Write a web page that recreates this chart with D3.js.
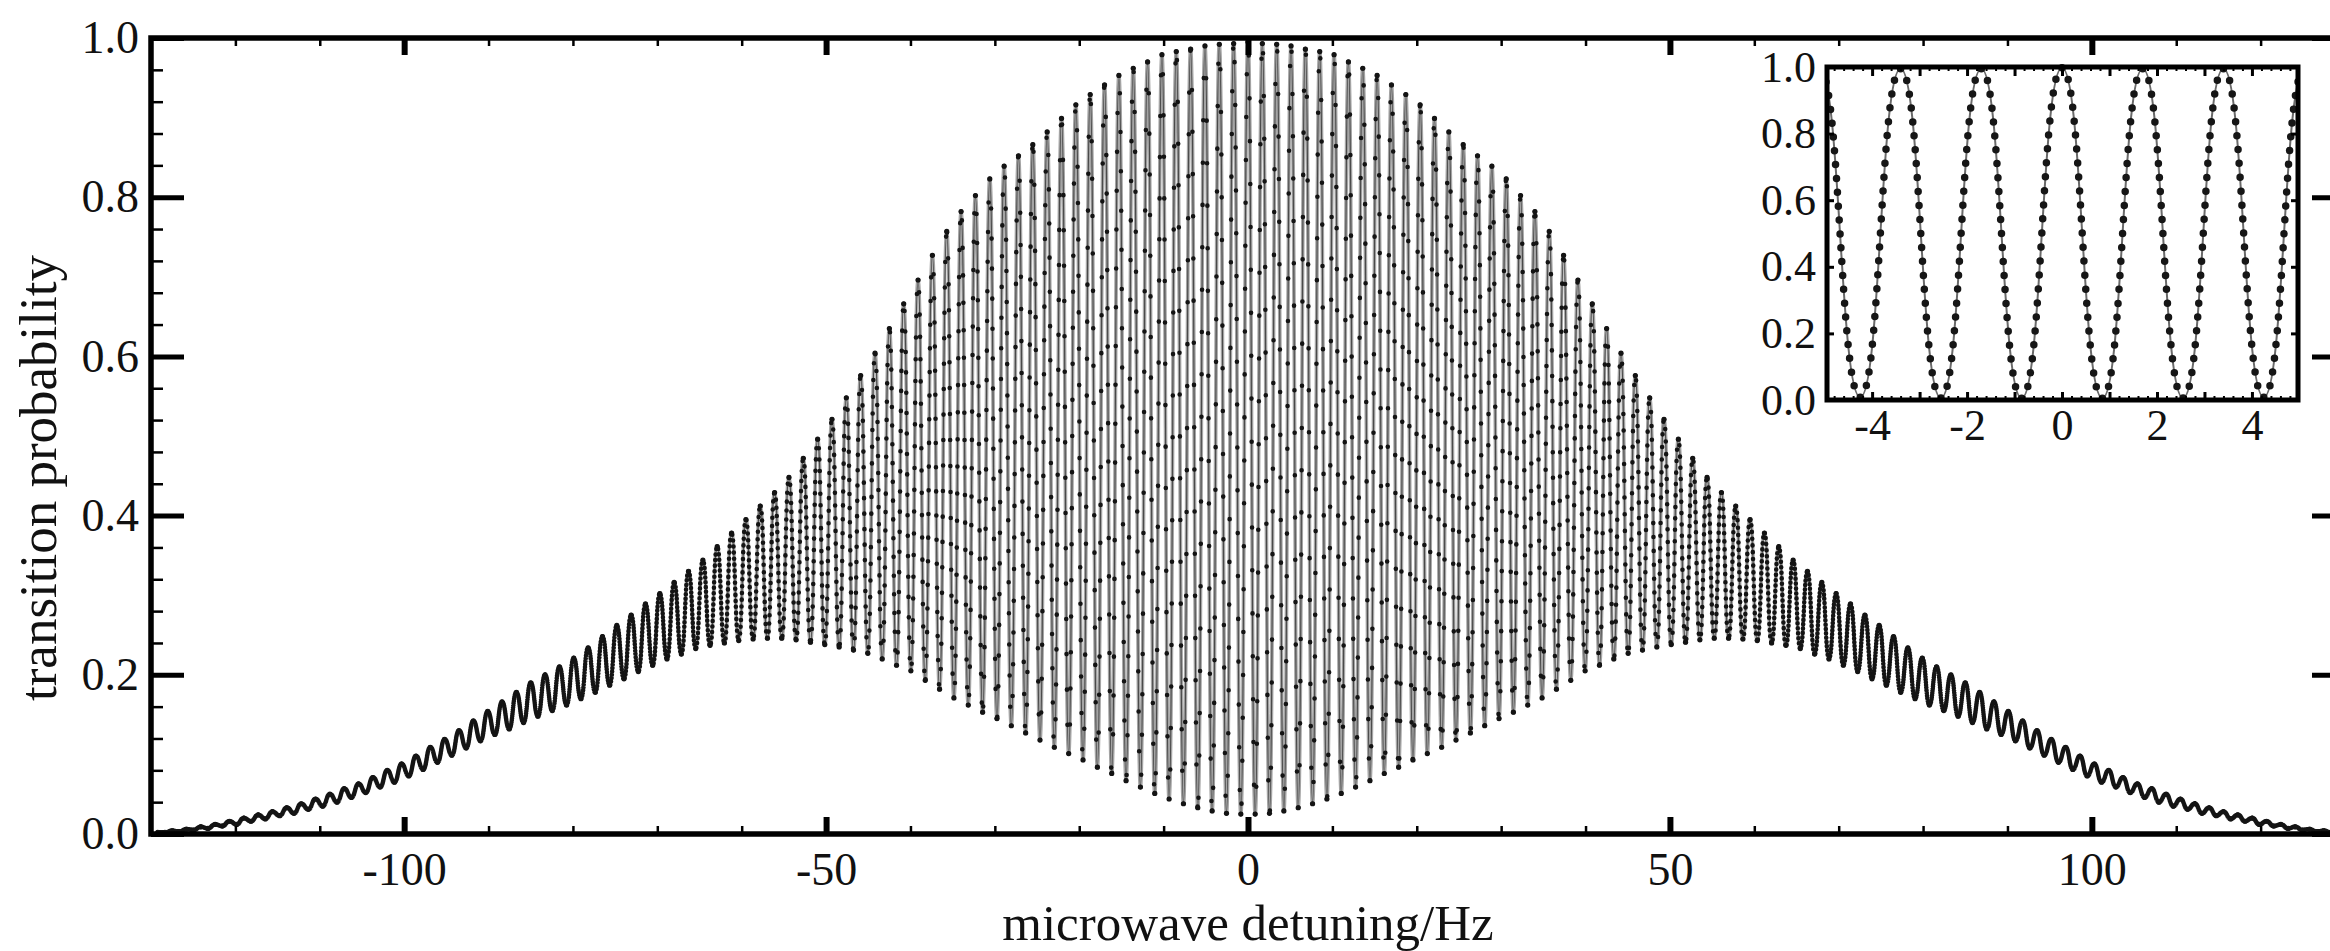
<!DOCTYPE html>
<html>
<head>
<meta charset="utf-8">
<script src="https://cdn.jsdelivr.net/npm/d3@7"></script>
<style>
    body { margin: 0; background: #fff; }
    svg { display: block; font-family: "Liberation Serif", "Times New Roman", serif; }
</style>
</head>
<body>
<div id="chart"></div>
<script>

// fringe period (Hz)
const fringeSpacing = 1.7

// top of each fringe, fringe k sits at +/- k * fringeSpacing (pattern is symmetric)
const peakValues = [
    0.995, 0.993, 0.992, 0.99, 0.986, 0.983, 0.979, 0.97, 0.962, 0.953,
    0.941, 0.929, 0.916, 0.899, 0.882, 0.866, 0.852, 0.839, 0.823, 0.802,
    0.782, 0.757, 0.727, 0.696, 0.666, 0.635, 0.604, 0.576, 0.548, 0.521,
    0.496, 0.472, 0.448, 0.429, 0.412, 0.395, 0.378, 0.361, 0.344, 0.33,
    0.316, 0.302, 0.289, 0.275, 0.262, 0.248, 0.234, 0.221, 0.21, 0.2,
    0.19, 0.178, 0.166, 0.154, 0.142, 0.13, 0.119, 0.109, 0.098, 0.088,
    0.08, 0.071, 0.063, 0.057, 0.05, 0.044, 0.038, 0.033, 0.028, 0.024,
    0.02, 0.016, 0.012, 0.009, 0.006, 0.004, 0.002
]

// bottom of each fringe, at +/- (k + 0.5) * fringeSpacing
const troughValues = [
    0.025, 0.026, 0.029, 0.033, 0.038, 0.044, 0.051, 0.059, 0.067, 0.076,
    0.084, 0.093, 0.101, 0.109, 0.118, 0.127, 0.136, 0.145, 0.153, 0.162,
    0.171, 0.182, 0.193, 0.205, 0.212, 0.22, 0.227, 0.231, 0.235, 0.238,
    0.241, 0.244, 0.246, 0.246, 0.245, 0.243, 0.24, 0.237, 0.233, 0.226,
    0.22, 0.212, 0.204, 0.195, 0.187, 0.178, 0.17, 0.162, 0.155, 0.148,
    0.14, 0.132, 0.125, 0.117, 0.108, 0.099, 0.09, 0.081, 0.073, 0.065,
    0.059, 0.052, 0.046, 0.04, 0.035, 0.031, 0.026, 0.023, 0.019, 0.016,
    0.012, 0.01, 0.007, 0.005, 0.003, 0.002
]

// inset: zoom on the central fringes
const insetPeakX = [-5.1, -3.4, -1.7, 0, 1.7, 3.4, 5.1]
const insetPeakY = [0.99, 0.995, 0.995, 0.998, 0.995, 0.995, 0.99]
const insetTroughX = [-4.25, -2.55, -0.85, 0.85, 2.55, 4.25]
const insetTroughY = [0.008, 0.006, 0.005, 0.005, 0.006, 0.008]

// tick labels
const xTicks = [-100, -50, 0, 50, 100]
const yTicks = [0, 0.2, 0.4, 0.6, 0.8, 1.0]
const insetXTicks = [-4, -2, 0, 2, 4]
const insetYTicks = [0, 0.2, 0.4, 0.6, 0.8, 1.0]

////////////////////////////////////
//////////data wrangling////////////
////////////////////////////////////

const peaks = d3.range(-76, 77).map(k => ({ f: k * fringeSpacing, p: peakValues[Math.abs(k)] }))
const troughs = d3.range(-76, 76).map(k => ({ f: (k + 0.5) * fringeSpacing, p: troughValues[k >= 0 ? k : -k - 1] }))
const fringe = peaks.concat(troughs).sort((a, b) => a.f - b.f)

const insetData = insetPeakX.map((f, i) => ({ f: f, p: insetPeakY[i] }))
    .concat(insetTroughX.map((f, i) => ({ f: f, p: insetTroughY[i] })))
    .sort((a, b) => a.f - b.f)

////////////////////////////////////
//////////////svg///////////////////
////////////////////////////////////

const svgWidth = 2330
const svgHeight = 951

const svg = d3.select('#chart')
    .append('svg')
    .attr('width', svgWidth)
    .attr('height', svgHeight)

svg.append('rect').attr('width', svgWidth).attr('height', svgHeight).attr('fill', '#fff')

// main scales (right border of the frame falls just outside the picture)
const x = d3.scaleLinear().domain([-130, 130]).range([151, 2345])
const y = d3.scaleLinear().domain([0, 1]).range([834, 38])

const defs = svg.append('defs')
defs.append('clipPath').attr('id', 'main-clip')
    .append('rect')
    .attr('x', x(-130)).attr('y', y(1) - 4)
    .attr('width', x(130) - x(-130)).attr('height', y(0) - y(1) + 4)

////////////////////////////////////
////////////// fringes /////////////
////////////////////////////////////

const line = d3.line()
    .x(d => x(d.f))
    .y(d => y(d.p))
    .curve(d3.curveBumpX)

const plot = svg.append('g').attr('clip-path', 'url(#main-clip)')

plot.append('path')
    .datum(fringe)
    .attr('d', line)
    .attr('fill', 'none')
    .attr('stroke', '#a4a4a4')
    .attr('stroke-width', 3.6)

plot.append('path')
    .datum(fringe)
    .attr('d', line)
    .attr('fill', 'none')
    .attr('stroke', '#4a4a4a')
    .attr('stroke-width', 1.1)

// sample markers: same count on every half fringe, first one shifted by a scattered phase
const markersPerHalf = 18
plot.append('g')
    .selectAll('path')
    .data(d3.pairs(fringe))
    .join('path')
    .attr('d', d => line(d))
    .attr('fill', 'none')
    .attr('stroke', '#141414')
    .attr('stroke-width', 4.6)
    .attr('stroke-linecap', 'round')
    .each(function (d, i) {
        const step = this.getTotalLength() / markersPerHalf
        const phase = ((i * i * 13 + i * 7) % 101) / 101
        const dashes = [0, phase * step]
        for (let k = 0; k < markersPerHalf; k++) dashes.push(0, step)
        d3.select(this).attr('stroke-dasharray', dashes.map(v => v.toFixed(2)).join(' '))
    })

// extremes of each fringe
plot.append('g')
    .selectAll('circle')
    .data(fringe)
    .join('circle')
    .attr('cx', d => x(d.f))
    .attr('cy', d => y(d.p))
    .attr('r', 2.6)
    .attr('fill', '#141414')

////////////////////////////////////
///////////////axis/////////////////
////////////////////////////////////

const xMinor = d3.range(-130, 131, 10).filter(d => xTicks.indexOf(d) == -1)
const yMinor = d3.range(0, 1.001, 0.04).filter(d => Math.abs(d * 5 - Math.round(d * 5)) > 0.01)

function styleTicks(g, width) {
    g.select('.domain').remove()
    g.selectAll('line').attr('stroke', '#000').attr('stroke-width', width)
    g.attr('font-family', null)
}

// left
svg.append('g')
    .attr('transform', `translate(${x(-130)},0)`)
    .call(d3.axisLeft(y).tickValues(yMinor).tickFormat('').tickSizeInner(-12).tickSizeOuter(0))
    .call(g => styleTicks(g, 2.5))
svg.append('g')
    .attr('transform', `translate(${x(-130)},0)`)
    .call(d3.axisLeft(y).tickValues(yTicks).tickFormat(d3.format('.1f')).tickSizeInner(-33).tickSizeOuter(0).tickPadding(12))
    .call(g => styleTicks(g, 5))
    .call(g => g.selectAll('text').attr('font-size', 46).attr('fill', '#111'))

// right
svg.append('g')
    .attr('transform', `translate(${x(130)},0)`)
    .call(d3.axisRight(y).tickValues(yMinor).tickFormat('').tickSizeInner(-12).tickSizeOuter(0))
    .call(g => styleTicks(g, 2.5))
svg.append('g')
    .attr('transform', `translate(${x(130)},0)`)
    .call(d3.axisRight(y).tickValues(yTicks).tickFormat('').tickSizeInner(-33).tickSizeOuter(0))
    .call(g => styleTicks(g, 5))

// bottom
svg.append('g')
    .attr('transform', `translate(0,${y(0)})`)
    .call(d3.axisBottom(x).tickValues(xMinor).tickFormat('').tickSizeInner(-8).tickSizeOuter(0))
    .call(g => styleTicks(g, 2.5))
svg.append('g')
    .attr('transform', `translate(0,${y(0)})`)
    .call(d3.axisBottom(x).tickValues(xTicks).tickFormat(d => String(d)).tickSizeInner(-17).tickSizeOuter(0).tickPadding(18))
    .call(g => styleTicks(g, 6))
    .call(g => g.selectAll('text').attr('font-size', 46).attr('fill', '#111'))

// top
svg.append('g')
    .attr('transform', `translate(0,${y(1)})`)
    .call(d3.axisTop(x).tickValues(xMinor).tickFormat('').tickSizeInner(-8).tickSizeOuter(0))
    .call(g => styleTicks(g, 2.5))
svg.append('g')
    .attr('transform', `translate(0,${y(1)})`)
    .call(d3.axisTop(x).tickValues(xTicks).tickFormat('').tickSizeInner(-17).tickSizeOuter(0))
    .call(g => styleTicks(g, 6))

// frame
svg.append('rect')
    .attr('x', x(-130)).attr('y', y(1))
    .attr('width', x(130) - x(-130)).attr('height', y(0) - y(1))
    .attr('fill', 'none')
    .attr('stroke', '#000')
    .attr('stroke-width', 5.5)

// titles
svg.append('text')
    .attr('x', (x(-130) + x(130)) / 2)
    .attr('y', 940)
    .attr('text-anchor', 'middle')
    .attr('font-size', 51)
    .attr('fill', '#111')
    .text('microwave detuning/Hz')

svg.append('text')
    .attr('transform', 'translate(56,478) rotate(-90)')
    .attr('text-anchor', 'middle')
    .attr('font-size', 53)
    .attr('fill', '#111')
    .text('transition probability')

////////////////////////////////////
////////////// inset ///////////////
////////////////////////////////////

const ix = d3.scaleLinear().domain([-4.95, 4.97]).range([1827, 2298])
const iy = d3.scaleLinear().domain([0, 1]).range([400, 67])

defs.append('clipPath').attr('id', 'inset-clip')
    .append('rect')
    .attr('x', ix.range()[0]).attr('y', iy(1) - 6)
    .attr('width', ix.range()[1] - ix.range()[0]).attr('height', iy(0) - iy(1) + 6)

const inset = svg.append('g')

inset.append('rect')
    .attr('x', ix.range()[0]).attr('y', iy(1))
    .attr('width', ix.range()[1] - ix.range()[0]).attr('height', iy(0) - iy(1))
    .attr('fill', '#fff')

const insetLine = d3.line()
    .x(d => ix(d.f))
    .y(d => iy(d.p))
    .curve(d3.curveBumpX)

const insetPlot = inset.append('g').attr('clip-path', 'url(#inset-clip)')

insetPlot.append('path')
    .datum(insetData)
    .attr('d', insetLine)
    .attr('fill', 'none')
    .attr('stroke', '#6a6a6a')
    .attr('stroke-width', 2)

const insetMarkersPerHalf = 24
insetPlot.append('g')
    .selectAll('path')
    .data(d3.pairs(insetData))
    .join('path')
    .attr('d', d => insetLine(d))
    .attr('fill', 'none')
    .attr('stroke', '#161616')
    .attr('stroke-width', 7.5)
    .attr('stroke-linecap', 'round')
    .each(function () {
        const step = this.getTotalLength() / insetMarkersPerHalf
        d3.select(this).attr('stroke-dasharray', `0 ${step.toFixed(3)}`)
    })

const ixMinor = d3.range(-48, 49, 2).map(d => d / 10).filter(d => Math.abs(d - Math.round(d)) > 0.01)
const ixMid = d3.range(-4, 5)

inset.append('g')
    .attr('transform', `translate(0,${iy(0)})`)
    .call(d3.axisBottom(ix).tickValues(ixMinor).tickFormat('').tickSizeInner(-4).tickSizeOuter(0))
    .call(g => styleTicks(g, 2))
inset.append('g')
    .attr('transform', `translate(0,${iy(0)})`)
    .call(d3.axisBottom(ix).tickValues(ixMid).tickFormat(d => insetXTicks.indexOf(d) == -1 ? '' : String(d)).tickSizeInner(-8).tickSizeOuter(0).tickPadding(9))
    .call(g => styleTicks(g, 3))
    .call(g => g.selectAll('text').attr('font-size', 44).attr('fill', '#111'))
inset.append('g')
    .attr('transform', `translate(0,${iy(1)})`)
    .call(d3.axisTop(ix).tickValues(ixMinor).tickFormat('').tickSizeInner(-4).tickSizeOuter(0))
    .call(g => styleTicks(g, 2))
inset.append('g')
    .attr('transform', `translate(0,${iy(1)})`)
    .call(d3.axisTop(ix).tickValues(ixMid).tickFormat('').tickSizeInner(-9).tickSizeOuter(0))
    .call(g => styleTicks(g, 3))
inset.append('g')
    .attr('transform', `translate(${ix.range()[0]},0)`)
    .call(d3.axisLeft(iy).tickValues(insetYTicks).tickFormat(d3.format('.1f')).tickSizeInner(-7).tickSizeOuter(0).tickPadding(11))
    .call(g => styleTicks(g, 3))
    .call(g => g.selectAll('text').attr('font-size', 44).attr('fill', '#111'))
inset.append('g')
    .attr('transform', `translate(${ix.range()[1]},0)`)
    .call(d3.axisRight(iy).tickValues(insetYTicks).tickFormat('').tickSizeInner(-7).tickSizeOuter(0))
    .call(g => styleTicks(g, 3))

inset.append('rect')
    .attr('x', ix.range()[0]).attr('y', iy(1))
    .attr('width', ix.range()[1] - ix.range()[0]).attr('height', iy(0) - iy(1))
    .attr('fill', 'none')
    .attr('stroke', '#000')
    .attr('stroke-width', 5)

</script>
</body>
</html>
